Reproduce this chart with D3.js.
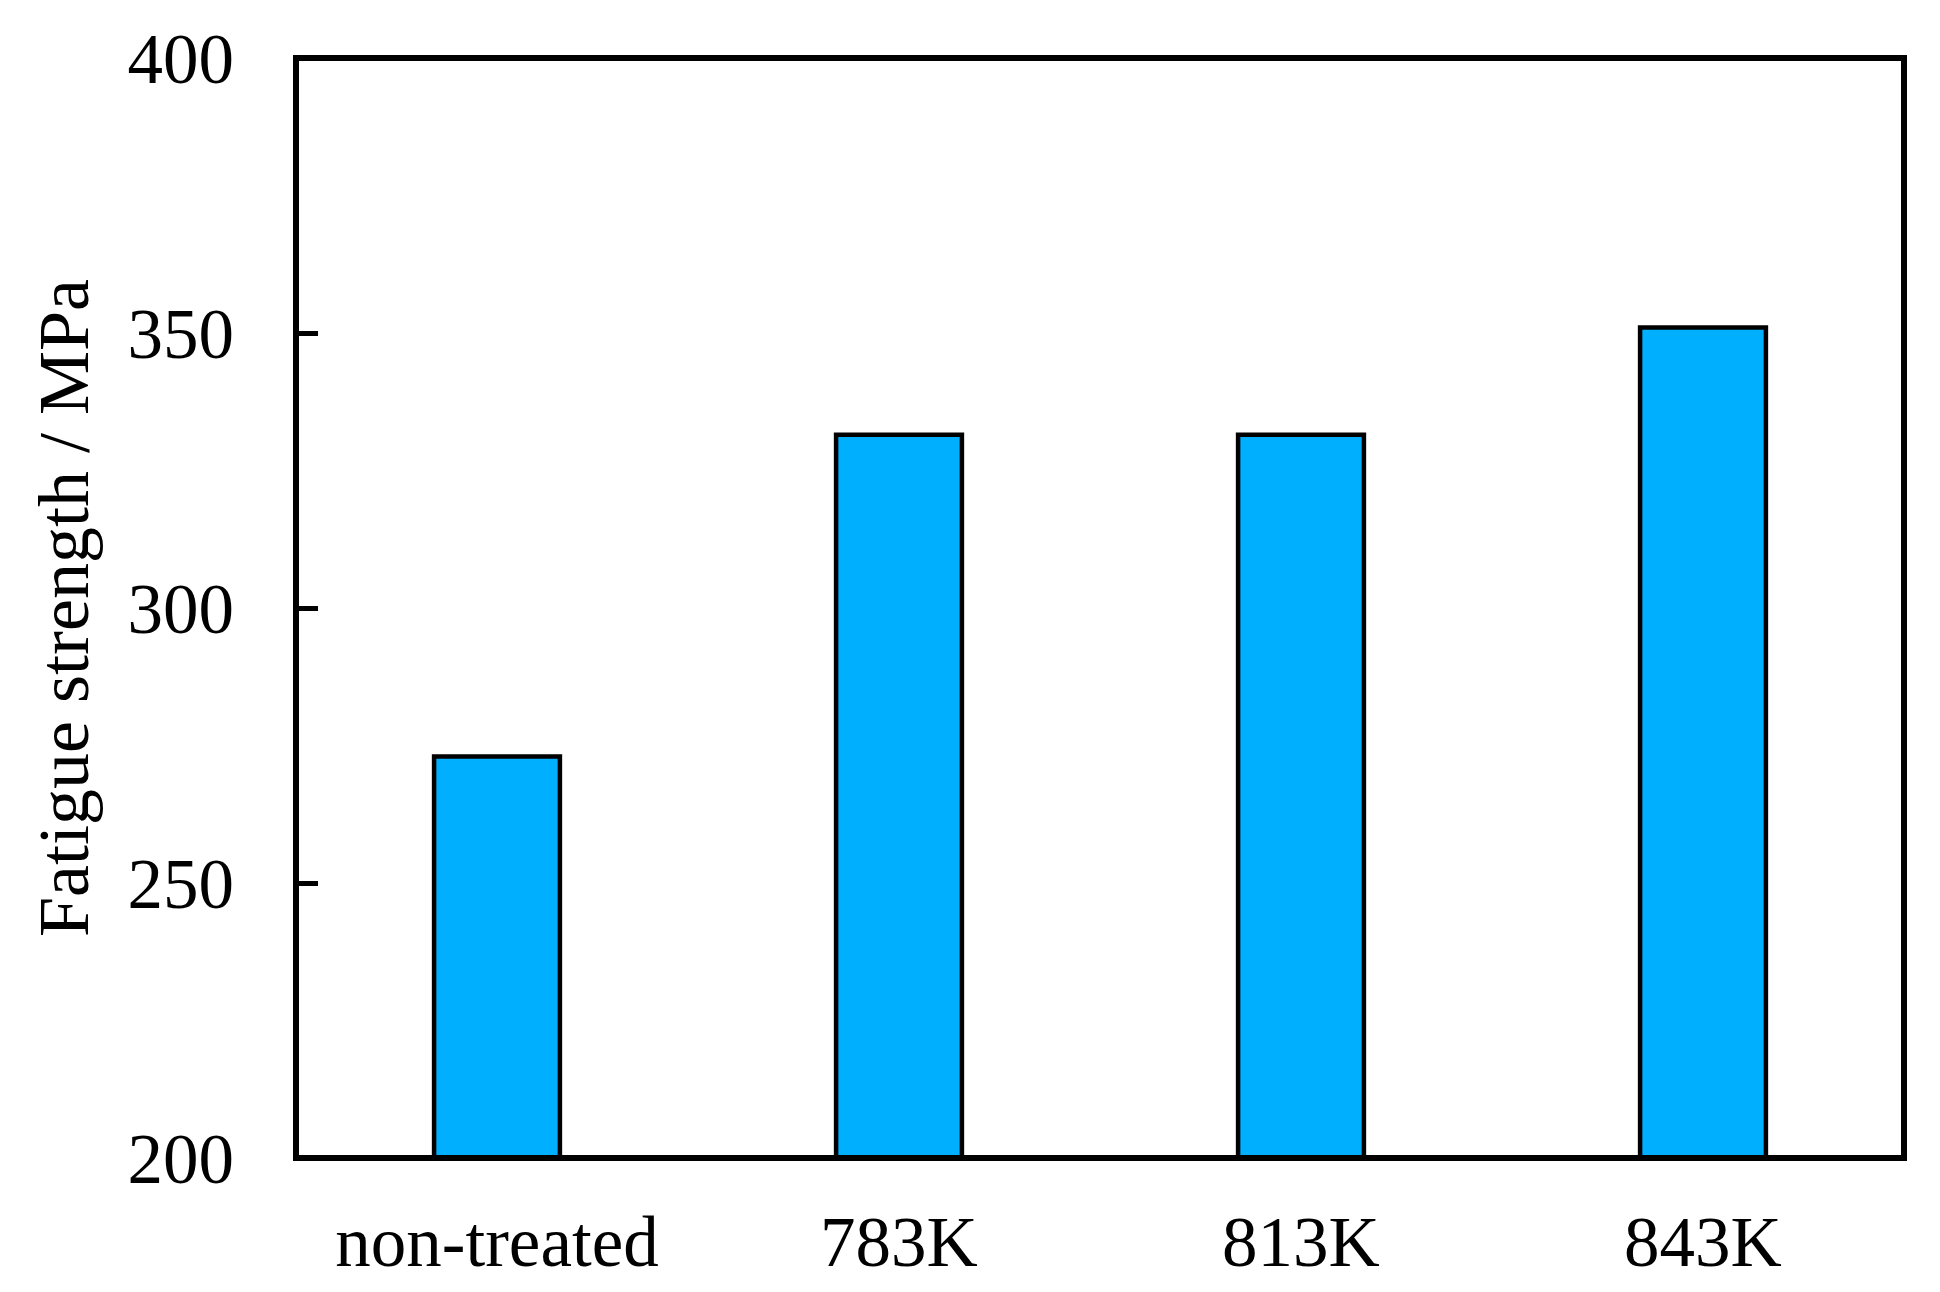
<!DOCTYPE html>
<html>
<head>
<meta charset="utf-8">
<script src="https://cdn.jsdelivr.net/npm/d3@7"></script>
<style>
	body { margin: 0; background: #fff; }
	text { font-family: "Liberation Serif", "Times New Roman", serif; fill: #000; }
</style>
</head>
<body>
<div id="chart"></div>
<script>
// data
var categories = ["non-treated", "783K", "813K", "843K"];
var fatigueStrength = [273, 331.5, 331.5, 351];
var yTicks = [200, 250, 300, 350, 400];

// set the dimensions and margins of the graph
var W = 1940, H = 1292;
var margin = {top: 58, right: 36, bottom: 134, left: 296};
var width = W - margin.left - margin.right,
	height = H - margin.top - margin.bottom;

var svg = d3.select("#chart").append("svg")
	.attr("width", W)
	.attr("height", H)
	.append("g")
	.attr("transform", "translate(" + margin.left + "," + margin.top + ")");

// set the ranges
var x = d3.scaleBand()
	.domain(categories)
	.range([0, width])
	.paddingInner(0.687)
	.paddingOuter(0.3435);
var y = d3.scaleLinear().domain([200, 400]).range([height, 0]);

// bars
svg.selectAll(".bar")
	.data(fatigueStrength)
	.enter().append("rect")
	.attr("class", "bar")
	.attr("x", function(d, i) { return x(categories[i]); })
	.attr("width", x.bandwidth())
	.attr("y", function(d) { return y(d); })
	.attr("height", function(d) { return y(200) - y(d); })
	.attr("fill", "#00b0ff")
	.attr("stroke", "#000")
	.attr("stroke-width", 4.5);

// Y axis, ticks pointing inward
var yAxis = svg.append("g")
	.call(d3.axisLeft(y)
		.tickValues(yTicks)
		.tickSize(-22)
		.tickPadding(62)
		.tickFormat(d3.format("d")));
yAxis.select(".domain").remove();
yAxis.selectAll("line").attr("stroke", "#000").attr("stroke-width", 5);
yAxis.selectAll("text")
	.style("font-family", "'Liberation Serif', serif")
	.style("font-size", "71px")
	.attr("dy", "0.34em");

// X axis labels
var xAxis = svg.append("g")
	.attr("transform", "translate(0," + height + ")")
	.call(d3.axisBottom(x).tickSize(0));
xAxis.select(".domain").remove();
xAxis.selectAll("text")
	.style("font-family", "'Liberation Serif', serif")
	.style("font-size", "71px")
	.attr("y", 108)
	.attr("dy", null);

// frame
svg.append("rect")
	.attr("x", 0)
	.attr("y", 0)
	.attr("width", width)
	.attr("height", height)
	.attr("fill", "none")
	.attr("stroke", "#000")
	.attr("stroke-width", 6);

// Y axis title
svg.append("text")
	.attr("transform", "translate(" + (88 - margin.left) + "," + (height / 2) + ") rotate(-90)")
	.attr("text-anchor", "middle")
	.style("font-size", "72px")
	.text("Fatigue strength / MPa");
</script>
</body>
</html>
